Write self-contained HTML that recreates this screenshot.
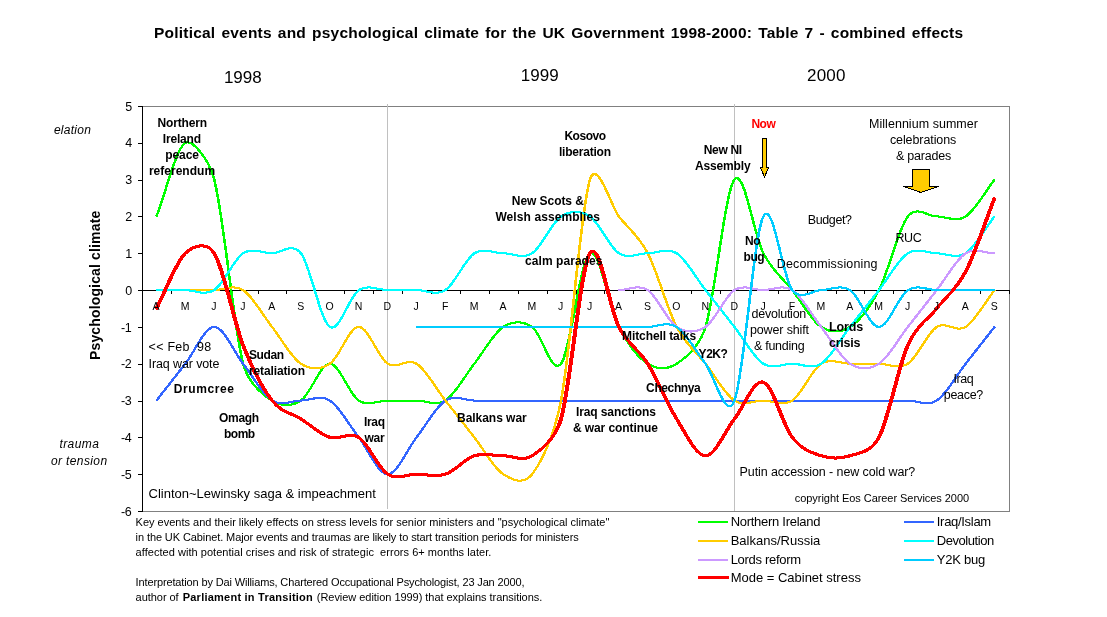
<!DOCTYPE html>
<html><head><meta charset="utf-8"><title>Political events and psychological climate</title>
<style>
html,body{margin:0;padding:0;background:#fff;}
body{width:1107px;height:617px;position:relative;overflow:hidden;font-family:"Liberation Sans",Arial,sans-serif;}
.t{position:absolute;white-space:pre;line-height:1;color:#000;}
</style></head><body>
<svg width="1107" height="617" viewBox="0 0 1107 617" style="position:absolute;left:0;top:0">
<g shape-rendering="crispEdges" fill="none">
<rect x="142.5" y="106.5" width="867" height="405" stroke="#808080" stroke-width="1"/>
<line x1="387.5" y1="104" x2="387.5" y2="509" stroke="#C0C0C0" stroke-width="1"/>
<line x1="734.5" y1="104" x2="734.5" y2="511" stroke="#C0C0C0" stroke-width="1"/>
<line x1="142.5" y1="106" x2="142.5" y2="512" stroke="#000" stroke-width="1"/>
<line x1="138" y1="511.5" x2="143" y2="511.5" stroke="#000" stroke-width="1"/>
<line x1="138" y1="474.5" x2="143" y2="474.5" stroke="#000" stroke-width="1"/>
<line x1="138" y1="437.5" x2="143" y2="437.5" stroke="#000" stroke-width="1"/>
<line x1="138" y1="401.5" x2="143" y2="401.5" stroke="#000" stroke-width="1"/>
<line x1="138" y1="364.5" x2="143" y2="364.5" stroke="#000" stroke-width="1"/>
<line x1="138" y1="327.5" x2="143" y2="327.5" stroke="#000" stroke-width="1"/>
<line x1="138" y1="290.5" x2="143" y2="290.5" stroke="#000" stroke-width="1"/>
<line x1="138" y1="253.5" x2="143" y2="253.5" stroke="#000" stroke-width="1"/>
<line x1="138" y1="216.5" x2="143" y2="216.5" stroke="#000" stroke-width="1"/>
<line x1="138" y1="180.5" x2="143" y2="180.5" stroke="#000" stroke-width="1"/>
<line x1="138" y1="143.5" x2="143" y2="143.5" stroke="#000" stroke-width="1"/>
<line x1="138" y1="106.5" x2="143" y2="106.5" stroke="#000" stroke-width="1"/>
<line x1="142" y1="290.5" x2="1010" y2="290.5" stroke="#000" stroke-width="1"/>
<line x1="142.5" y1="290.0" x2="142.5" y2="294.0" stroke="#000" stroke-width="1"/>
<line x1="171.5" y1="290.0" x2="171.5" y2="294.0" stroke="#000" stroke-width="1"/>
<line x1="200.5" y1="290.0" x2="200.5" y2="294.0" stroke="#000" stroke-width="1"/>
<line x1="229.5" y1="290.0" x2="229.5" y2="294.0" stroke="#000" stroke-width="1"/>
<line x1="258.5" y1="290.0" x2="258.5" y2="294.0" stroke="#000" stroke-width="1"/>
<line x1="286.5" y1="290.0" x2="286.5" y2="294.0" stroke="#000" stroke-width="1"/>
<line x1="315.5" y1="290.0" x2="315.5" y2="294.0" stroke="#000" stroke-width="1"/>
<line x1="344.5" y1="290.0" x2="344.5" y2="294.0" stroke="#000" stroke-width="1"/>
<line x1="373.5" y1="290.0" x2="373.5" y2="294.0" stroke="#000" stroke-width="1"/>
<line x1="402.5" y1="290.0" x2="402.5" y2="294.0" stroke="#000" stroke-width="1"/>
<line x1="431.5" y1="290.0" x2="431.5" y2="294.0" stroke="#000" stroke-width="1"/>
<line x1="460.5" y1="290.0" x2="460.5" y2="294.0" stroke="#000" stroke-width="1"/>
<line x1="489.5" y1="290.0" x2="489.5" y2="294.0" stroke="#000" stroke-width="1"/>
<line x1="518.5" y1="290.0" x2="518.5" y2="294.0" stroke="#000" stroke-width="1"/>
<line x1="547.5" y1="290.0" x2="547.5" y2="294.0" stroke="#000" stroke-width="1"/>
<line x1="576.5" y1="290.0" x2="576.5" y2="294.0" stroke="#000" stroke-width="1"/>
<line x1="604.5" y1="290.0" x2="604.5" y2="294.0" stroke="#000" stroke-width="1"/>
<line x1="633.5" y1="290.0" x2="633.5" y2="294.0" stroke="#000" stroke-width="1"/>
<line x1="662.5" y1="290.0" x2="662.5" y2="294.0" stroke="#000" stroke-width="1"/>
<line x1="691.5" y1="290.0" x2="691.5" y2="294.0" stroke="#000" stroke-width="1"/>
<line x1="720.5" y1="290.0" x2="720.5" y2="294.0" stroke="#000" stroke-width="1"/>
<line x1="749.5" y1="290.0" x2="749.5" y2="294.0" stroke="#000" stroke-width="1"/>
<line x1="778.5" y1="290.0" x2="778.5" y2="294.0" stroke="#000" stroke-width="1"/>
<line x1="807.5" y1="290.0" x2="807.5" y2="294.0" stroke="#000" stroke-width="1"/>
<line x1="836.5" y1="290.0" x2="836.5" y2="294.0" stroke="#000" stroke-width="1"/>
<line x1="864.5" y1="290.0" x2="864.5" y2="294.0" stroke="#000" stroke-width="1"/>
<line x1="893.5" y1="290.0" x2="893.5" y2="294.0" stroke="#000" stroke-width="1"/>
<line x1="922.5" y1="290.0" x2="922.5" y2="294.0" stroke="#000" stroke-width="1"/>
<line x1="951.5" y1="290.0" x2="951.5" y2="294.0" stroke="#000" stroke-width="1"/>
<line x1="980.5" y1="290.0" x2="980.5" y2="294.0" stroke="#000" stroke-width="1"/>
<line x1="1009.5" y1="290.0" x2="1009.5" y2="294.0" stroke="#000" stroke-width="1"/>
</g>
<g fill="none" stroke-linejoin="round" stroke-linecap="butt" shape-rendering="crispEdges">
<g stroke="#00FF00" stroke-width="1.0">
<path d="M156.45,216.45 C166.08,191.91 175.72,148.95 185.35,142.82 C191.27,139.04 208.33,157.00 214.25,179.64 C223.88,216.45 233.52,326.91 243.15,363.73 C249.07,386.37 266.13,396.77 272.05,400.55 C281.68,406.68 291.32,406.68 300.95,400.55 C310.58,394.41 320.22,363.73 329.85,363.73 C339.48,363.73 349.12,394.41 358.75,400.55 C368.38,406.68 378.02,400.55 387.65,400.55 C397.28,400.55 406.92,400.55 416.55,400.55 C426.18,400.55 435.82,406.68 445.45,400.55 C455.08,394.41 464.72,376.00 474.35,363.73 C483.98,351.45 493.62,333.05 503.25,326.91 C512.88,320.77 522.52,320.77 532.15,326.91 C541.78,333.05 551.42,376.00 561.05,363.73 C570.68,351.45 580.32,259.41 589.95,253.27 C599.58,247.14 609.22,308.50 618.85,326.91 C628.48,345.32 638.12,357.59 647.75,363.73 C657.38,369.86 667.02,369.86 676.65,363.73 C683.66,359.26 698.54,349.24 705.55,326.91 C715.18,296.23 724.82,191.91 734.45,179.64 C744.08,167.36 753.72,234.86 763.35,253.27 C772.98,271.68 782.62,277.82 792.25,290.09 C801.88,302.36 811.52,320.77 821.15,326.91 C830.78,333.05 840.42,333.05 850.05,326.91 C859.68,320.77 869.32,308.50 878.95,290.09 C888.58,271.68 898.22,228.73 907.85,216.45 C916.77,205.09 927.83,216.45 936.75,216.45 C946.38,216.45 956.02,222.59 965.65,216.45 C975.28,210.32 984.92,191.91 994.55,179.64" transform="translate(-0.5,-0.5)"/>
<path d="M156.45,216.45 C166.08,191.91 175.72,148.95 185.35,142.82 C191.27,139.04 208.33,157.00 214.25,179.64 C223.88,216.45 233.52,326.91 243.15,363.73 C249.07,386.37 266.13,396.77 272.05,400.55 C281.68,406.68 291.32,406.68 300.95,400.55 C310.58,394.41 320.22,363.73 329.85,363.73 C339.48,363.73 349.12,394.41 358.75,400.55 C368.38,406.68 378.02,400.55 387.65,400.55 C397.28,400.55 406.92,400.55 416.55,400.55 C426.18,400.55 435.82,406.68 445.45,400.55 C455.08,394.41 464.72,376.00 474.35,363.73 C483.98,351.45 493.62,333.05 503.25,326.91 C512.88,320.77 522.52,320.77 532.15,326.91 C541.78,333.05 551.42,376.00 561.05,363.73 C570.68,351.45 580.32,259.41 589.95,253.27 C599.58,247.14 609.22,308.50 618.85,326.91 C628.48,345.32 638.12,357.59 647.75,363.73 C657.38,369.86 667.02,369.86 676.65,363.73 C683.66,359.26 698.54,349.24 705.55,326.91 C715.18,296.23 724.82,191.91 734.45,179.64 C744.08,167.36 753.72,234.86 763.35,253.27 C772.98,271.68 782.62,277.82 792.25,290.09 C801.88,302.36 811.52,320.77 821.15,326.91 C830.78,333.05 840.42,333.05 850.05,326.91 C859.68,320.77 869.32,308.50 878.95,290.09 C888.58,271.68 898.22,228.73 907.85,216.45 C916.77,205.09 927.83,216.45 936.75,216.45 C946.38,216.45 956.02,222.59 965.65,216.45 C975.28,210.32 984.92,191.91 994.55,179.64" transform="translate(0.5,-0.5)"/>
<path d="M156.45,216.45 C166.08,191.91 175.72,148.95 185.35,142.82 C191.27,139.04 208.33,157.00 214.25,179.64 C223.88,216.45 233.52,326.91 243.15,363.73 C249.07,386.37 266.13,396.77 272.05,400.55 C281.68,406.68 291.32,406.68 300.95,400.55 C310.58,394.41 320.22,363.73 329.85,363.73 C339.48,363.73 349.12,394.41 358.75,400.55 C368.38,406.68 378.02,400.55 387.65,400.55 C397.28,400.55 406.92,400.55 416.55,400.55 C426.18,400.55 435.82,406.68 445.45,400.55 C455.08,394.41 464.72,376.00 474.35,363.73 C483.98,351.45 493.62,333.05 503.25,326.91 C512.88,320.77 522.52,320.77 532.15,326.91 C541.78,333.05 551.42,376.00 561.05,363.73 C570.68,351.45 580.32,259.41 589.95,253.27 C599.58,247.14 609.22,308.50 618.85,326.91 C628.48,345.32 638.12,357.59 647.75,363.73 C657.38,369.86 667.02,369.86 676.65,363.73 C683.66,359.26 698.54,349.24 705.55,326.91 C715.18,296.23 724.82,191.91 734.45,179.64 C744.08,167.36 753.72,234.86 763.35,253.27 C772.98,271.68 782.62,277.82 792.25,290.09 C801.88,302.36 811.52,320.77 821.15,326.91 C830.78,333.05 840.42,333.05 850.05,326.91 C859.68,320.77 869.32,308.50 878.95,290.09 C888.58,271.68 898.22,228.73 907.85,216.45 C916.77,205.09 927.83,216.45 936.75,216.45 C946.38,216.45 956.02,222.59 965.65,216.45 C975.28,210.32 984.92,191.91 994.55,179.64" transform="translate(-0.5,0.5)"/>
<path d="M156.45,216.45 C166.08,191.91 175.72,148.95 185.35,142.82 C191.27,139.04 208.33,157.00 214.25,179.64 C223.88,216.45 233.52,326.91 243.15,363.73 C249.07,386.37 266.13,396.77 272.05,400.55 C281.68,406.68 291.32,406.68 300.95,400.55 C310.58,394.41 320.22,363.73 329.85,363.73 C339.48,363.73 349.12,394.41 358.75,400.55 C368.38,406.68 378.02,400.55 387.65,400.55 C397.28,400.55 406.92,400.55 416.55,400.55 C426.18,400.55 435.82,406.68 445.45,400.55 C455.08,394.41 464.72,376.00 474.35,363.73 C483.98,351.45 493.62,333.05 503.25,326.91 C512.88,320.77 522.52,320.77 532.15,326.91 C541.78,333.05 551.42,376.00 561.05,363.73 C570.68,351.45 580.32,259.41 589.95,253.27 C599.58,247.14 609.22,308.50 618.85,326.91 C628.48,345.32 638.12,357.59 647.75,363.73 C657.38,369.86 667.02,369.86 676.65,363.73 C683.66,359.26 698.54,349.24 705.55,326.91 C715.18,296.23 724.82,191.91 734.45,179.64 C744.08,167.36 753.72,234.86 763.35,253.27 C772.98,271.68 782.62,277.82 792.25,290.09 C801.88,302.36 811.52,320.77 821.15,326.91 C830.78,333.05 840.42,333.05 850.05,326.91 C859.68,320.77 869.32,308.50 878.95,290.09 C888.58,271.68 898.22,228.73 907.85,216.45 C916.77,205.09 927.83,216.45 936.75,216.45 C946.38,216.45 956.02,222.59 965.65,216.45 C975.28,210.32 984.92,191.91 994.55,179.64" transform="translate(0.5,0.5)"/>
<path d="M156.45,216.45 C166.08,191.91 175.72,148.95 185.35,142.82 C191.27,139.04 208.33,157.00 214.25,179.64 C223.88,216.45 233.52,326.91 243.15,363.73 C249.07,386.37 266.13,396.77 272.05,400.55 C281.68,406.68 291.32,406.68 300.95,400.55 C310.58,394.41 320.22,363.73 329.85,363.73 C339.48,363.73 349.12,394.41 358.75,400.55 C368.38,406.68 378.02,400.55 387.65,400.55 C397.28,400.55 406.92,400.55 416.55,400.55 C426.18,400.55 435.82,406.68 445.45,400.55 C455.08,394.41 464.72,376.00 474.35,363.73 C483.98,351.45 493.62,333.05 503.25,326.91 C512.88,320.77 522.52,320.77 532.15,326.91 C541.78,333.05 551.42,376.00 561.05,363.73 C570.68,351.45 580.32,259.41 589.95,253.27 C599.58,247.14 609.22,308.50 618.85,326.91 C628.48,345.32 638.12,357.59 647.75,363.73 C657.38,369.86 667.02,369.86 676.65,363.73 C683.66,359.26 698.54,349.24 705.55,326.91 C715.18,296.23 724.82,191.91 734.45,179.64 C744.08,167.36 753.72,234.86 763.35,253.27 C772.98,271.68 782.62,277.82 792.25,290.09 C801.88,302.36 811.52,320.77 821.15,326.91 C830.78,333.05 840.42,333.05 850.05,326.91 C859.68,320.77 869.32,308.50 878.95,290.09 C888.58,271.68 898.22,228.73 907.85,216.45 C916.77,205.09 927.83,216.45 936.75,216.45 C946.38,216.45 956.02,222.59 965.65,216.45 C975.28,210.32 984.92,191.91 994.55,179.64" transform="translate(-0.8,0)"/>
<path d="M156.45,216.45 C166.08,191.91 175.72,148.95 185.35,142.82 C191.27,139.04 208.33,157.00 214.25,179.64 C223.88,216.45 233.52,326.91 243.15,363.73 C249.07,386.37 266.13,396.77 272.05,400.55 C281.68,406.68 291.32,406.68 300.95,400.55 C310.58,394.41 320.22,363.73 329.85,363.73 C339.48,363.73 349.12,394.41 358.75,400.55 C368.38,406.68 378.02,400.55 387.65,400.55 C397.28,400.55 406.92,400.55 416.55,400.55 C426.18,400.55 435.82,406.68 445.45,400.55 C455.08,394.41 464.72,376.00 474.35,363.73 C483.98,351.45 493.62,333.05 503.25,326.91 C512.88,320.77 522.52,320.77 532.15,326.91 C541.78,333.05 551.42,376.00 561.05,363.73 C570.68,351.45 580.32,259.41 589.95,253.27 C599.58,247.14 609.22,308.50 618.85,326.91 C628.48,345.32 638.12,357.59 647.75,363.73 C657.38,369.86 667.02,369.86 676.65,363.73 C683.66,359.26 698.54,349.24 705.55,326.91 C715.18,296.23 724.82,191.91 734.45,179.64 C744.08,167.36 753.72,234.86 763.35,253.27 C772.98,271.68 782.62,277.82 792.25,290.09 C801.88,302.36 811.52,320.77 821.15,326.91 C830.78,333.05 840.42,333.05 850.05,326.91 C859.68,320.77 869.32,308.50 878.95,290.09 C888.58,271.68 898.22,228.73 907.85,216.45 C916.77,205.09 927.83,216.45 936.75,216.45 C946.38,216.45 956.02,222.59 965.65,216.45 C975.28,210.32 984.92,191.91 994.55,179.64" transform="translate(0.8,0)"/>
</g>
<g stroke="#3366FF" stroke-width="1.0">
<path d="M156.45,400.55 C166.08,388.27 175.72,376.00 185.35,363.73 C194.98,351.45 204.62,326.91 214.25,326.91 C223.88,326.91 233.52,351.45 243.15,363.73 C252.78,376.00 262.42,394.41 272.05,400.55 C281.68,406.68 291.32,400.55 300.95,400.55 C310.58,400.55 320.22,394.41 329.85,400.55 C339.48,406.68 349.12,425.09 358.75,437.36 C368.38,449.64 378.02,474.18 387.65,474.18 C397.28,474.18 406.92,449.64 416.55,437.36 C426.18,425.09 435.82,406.68 445.45,400.55 C455.08,394.41 464.72,400.55 474.35,400.55 C483.98,400.55 493.62,400.55 503.25,400.55 C512.88,400.55 522.52,400.55 532.15,400.55 C541.78,400.55 551.42,400.55 561.05,400.55 C570.68,400.55 580.32,400.55 589.95,400.55 C599.58,400.55 609.22,400.55 618.85,400.55 C628.48,400.55 638.12,400.55 647.75,400.55 C657.38,400.55 667.02,400.55 676.65,400.55 C686.28,400.55 695.92,400.55 705.55,400.55 C715.18,400.55 724.82,400.55 734.45,400.55 C744.08,400.55 753.72,400.55 763.35,400.55 C772.98,400.55 782.62,400.55 792.25,400.55 C801.88,400.55 811.52,400.55 821.15,400.55 C830.78,400.55 840.42,400.55 850.05,400.55 C859.68,400.55 869.32,400.55 878.95,400.55 C888.58,400.55 898.22,400.55 907.85,400.55 C917.48,400.55 927.12,406.68 936.75,400.55 C946.38,394.41 956.02,376.00 965.65,363.73 C975.28,351.45 984.92,339.18 994.55,326.91" transform="translate(-0.5,-0.5)"/>
<path d="M156.45,400.55 C166.08,388.27 175.72,376.00 185.35,363.73 C194.98,351.45 204.62,326.91 214.25,326.91 C223.88,326.91 233.52,351.45 243.15,363.73 C252.78,376.00 262.42,394.41 272.05,400.55 C281.68,406.68 291.32,400.55 300.95,400.55 C310.58,400.55 320.22,394.41 329.85,400.55 C339.48,406.68 349.12,425.09 358.75,437.36 C368.38,449.64 378.02,474.18 387.65,474.18 C397.28,474.18 406.92,449.64 416.55,437.36 C426.18,425.09 435.82,406.68 445.45,400.55 C455.08,394.41 464.72,400.55 474.35,400.55 C483.98,400.55 493.62,400.55 503.25,400.55 C512.88,400.55 522.52,400.55 532.15,400.55 C541.78,400.55 551.42,400.55 561.05,400.55 C570.68,400.55 580.32,400.55 589.95,400.55 C599.58,400.55 609.22,400.55 618.85,400.55 C628.48,400.55 638.12,400.55 647.75,400.55 C657.38,400.55 667.02,400.55 676.65,400.55 C686.28,400.55 695.92,400.55 705.55,400.55 C715.18,400.55 724.82,400.55 734.45,400.55 C744.08,400.55 753.72,400.55 763.35,400.55 C772.98,400.55 782.62,400.55 792.25,400.55 C801.88,400.55 811.52,400.55 821.15,400.55 C830.78,400.55 840.42,400.55 850.05,400.55 C859.68,400.55 869.32,400.55 878.95,400.55 C888.58,400.55 898.22,400.55 907.85,400.55 C917.48,400.55 927.12,406.68 936.75,400.55 C946.38,394.41 956.02,376.00 965.65,363.73 C975.28,351.45 984.92,339.18 994.55,326.91" transform="translate(0.5,-0.5)"/>
<path d="M156.45,400.55 C166.08,388.27 175.72,376.00 185.35,363.73 C194.98,351.45 204.62,326.91 214.25,326.91 C223.88,326.91 233.52,351.45 243.15,363.73 C252.78,376.00 262.42,394.41 272.05,400.55 C281.68,406.68 291.32,400.55 300.95,400.55 C310.58,400.55 320.22,394.41 329.85,400.55 C339.48,406.68 349.12,425.09 358.75,437.36 C368.38,449.64 378.02,474.18 387.65,474.18 C397.28,474.18 406.92,449.64 416.55,437.36 C426.18,425.09 435.82,406.68 445.45,400.55 C455.08,394.41 464.72,400.55 474.35,400.55 C483.98,400.55 493.62,400.55 503.25,400.55 C512.88,400.55 522.52,400.55 532.15,400.55 C541.78,400.55 551.42,400.55 561.05,400.55 C570.68,400.55 580.32,400.55 589.95,400.55 C599.58,400.55 609.22,400.55 618.85,400.55 C628.48,400.55 638.12,400.55 647.75,400.55 C657.38,400.55 667.02,400.55 676.65,400.55 C686.28,400.55 695.92,400.55 705.55,400.55 C715.18,400.55 724.82,400.55 734.45,400.55 C744.08,400.55 753.72,400.55 763.35,400.55 C772.98,400.55 782.62,400.55 792.25,400.55 C801.88,400.55 811.52,400.55 821.15,400.55 C830.78,400.55 840.42,400.55 850.05,400.55 C859.68,400.55 869.32,400.55 878.95,400.55 C888.58,400.55 898.22,400.55 907.85,400.55 C917.48,400.55 927.12,406.68 936.75,400.55 C946.38,394.41 956.02,376.00 965.65,363.73 C975.28,351.45 984.92,339.18 994.55,326.91" transform="translate(-0.5,0.5)"/>
<path d="M156.45,400.55 C166.08,388.27 175.72,376.00 185.35,363.73 C194.98,351.45 204.62,326.91 214.25,326.91 C223.88,326.91 233.52,351.45 243.15,363.73 C252.78,376.00 262.42,394.41 272.05,400.55 C281.68,406.68 291.32,400.55 300.95,400.55 C310.58,400.55 320.22,394.41 329.85,400.55 C339.48,406.68 349.12,425.09 358.75,437.36 C368.38,449.64 378.02,474.18 387.65,474.18 C397.28,474.18 406.92,449.64 416.55,437.36 C426.18,425.09 435.82,406.68 445.45,400.55 C455.08,394.41 464.72,400.55 474.35,400.55 C483.98,400.55 493.62,400.55 503.25,400.55 C512.88,400.55 522.52,400.55 532.15,400.55 C541.78,400.55 551.42,400.55 561.05,400.55 C570.68,400.55 580.32,400.55 589.95,400.55 C599.58,400.55 609.22,400.55 618.85,400.55 C628.48,400.55 638.12,400.55 647.75,400.55 C657.38,400.55 667.02,400.55 676.65,400.55 C686.28,400.55 695.92,400.55 705.55,400.55 C715.18,400.55 724.82,400.55 734.45,400.55 C744.08,400.55 753.72,400.55 763.35,400.55 C772.98,400.55 782.62,400.55 792.25,400.55 C801.88,400.55 811.52,400.55 821.15,400.55 C830.78,400.55 840.42,400.55 850.05,400.55 C859.68,400.55 869.32,400.55 878.95,400.55 C888.58,400.55 898.22,400.55 907.85,400.55 C917.48,400.55 927.12,406.68 936.75,400.55 C946.38,394.41 956.02,376.00 965.65,363.73 C975.28,351.45 984.92,339.18 994.55,326.91" transform="translate(0.5,0.5)"/>
<path d="M156.45,400.55 C166.08,388.27 175.72,376.00 185.35,363.73 C194.98,351.45 204.62,326.91 214.25,326.91 C223.88,326.91 233.52,351.45 243.15,363.73 C252.78,376.00 262.42,394.41 272.05,400.55 C281.68,406.68 291.32,400.55 300.95,400.55 C310.58,400.55 320.22,394.41 329.85,400.55 C339.48,406.68 349.12,425.09 358.75,437.36 C368.38,449.64 378.02,474.18 387.65,474.18 C397.28,474.18 406.92,449.64 416.55,437.36 C426.18,425.09 435.82,406.68 445.45,400.55 C455.08,394.41 464.72,400.55 474.35,400.55 C483.98,400.55 493.62,400.55 503.25,400.55 C512.88,400.55 522.52,400.55 532.15,400.55 C541.78,400.55 551.42,400.55 561.05,400.55 C570.68,400.55 580.32,400.55 589.95,400.55 C599.58,400.55 609.22,400.55 618.85,400.55 C628.48,400.55 638.12,400.55 647.75,400.55 C657.38,400.55 667.02,400.55 676.65,400.55 C686.28,400.55 695.92,400.55 705.55,400.55 C715.18,400.55 724.82,400.55 734.45,400.55 C744.08,400.55 753.72,400.55 763.35,400.55 C772.98,400.55 782.62,400.55 792.25,400.55 C801.88,400.55 811.52,400.55 821.15,400.55 C830.78,400.55 840.42,400.55 850.05,400.55 C859.68,400.55 869.32,400.55 878.95,400.55 C888.58,400.55 898.22,400.55 907.85,400.55 C917.48,400.55 927.12,406.68 936.75,400.55 C946.38,394.41 956.02,376.00 965.65,363.73 C975.28,351.45 984.92,339.18 994.55,326.91" transform="translate(-0.8,0)"/>
<path d="M156.45,400.55 C166.08,388.27 175.72,376.00 185.35,363.73 C194.98,351.45 204.62,326.91 214.25,326.91 C223.88,326.91 233.52,351.45 243.15,363.73 C252.78,376.00 262.42,394.41 272.05,400.55 C281.68,406.68 291.32,400.55 300.95,400.55 C310.58,400.55 320.22,394.41 329.85,400.55 C339.48,406.68 349.12,425.09 358.75,437.36 C368.38,449.64 378.02,474.18 387.65,474.18 C397.28,474.18 406.92,449.64 416.55,437.36 C426.18,425.09 435.82,406.68 445.45,400.55 C455.08,394.41 464.72,400.55 474.35,400.55 C483.98,400.55 493.62,400.55 503.25,400.55 C512.88,400.55 522.52,400.55 532.15,400.55 C541.78,400.55 551.42,400.55 561.05,400.55 C570.68,400.55 580.32,400.55 589.95,400.55 C599.58,400.55 609.22,400.55 618.85,400.55 C628.48,400.55 638.12,400.55 647.75,400.55 C657.38,400.55 667.02,400.55 676.65,400.55 C686.28,400.55 695.92,400.55 705.55,400.55 C715.18,400.55 724.82,400.55 734.45,400.55 C744.08,400.55 753.72,400.55 763.35,400.55 C772.98,400.55 782.62,400.55 792.25,400.55 C801.88,400.55 811.52,400.55 821.15,400.55 C830.78,400.55 840.42,400.55 850.05,400.55 C859.68,400.55 869.32,400.55 878.95,400.55 C888.58,400.55 898.22,400.55 907.85,400.55 C917.48,400.55 927.12,406.68 936.75,400.55 C946.38,394.41 956.02,376.00 965.65,363.73 C975.28,351.45 984.92,339.18 994.55,326.91" transform="translate(0.8,0)"/>
</g>
<g stroke="#FFCC00" stroke-width="1.0">
<path d="M156.45,290.09 C166.08,290.09 175.72,290.09 185.35,290.09 C194.98,290.09 204.62,290.09 214.25,290.09 C223.88,290.09 233.52,283.95 243.15,290.09 C252.78,296.23 262.42,314.64 272.05,326.91 C281.68,339.18 291.32,357.59 300.95,363.73 C310.58,369.86 320.22,369.86 329.85,363.73 C339.48,357.59 349.12,326.91 358.75,326.91 C368.38,326.91 378.02,357.59 387.65,363.73 C397.28,369.86 406.92,357.59 416.55,363.73 C426.18,369.86 435.82,388.27 445.45,400.55 C455.08,412.82 464.72,425.09 474.35,437.36 C483.98,449.64 493.62,468.05 503.25,474.18 C512.17,479.87 523.23,485.55 532.15,474.18 C539.77,464.48 553.43,439.36 561.05,400.55 C570.68,351.45 580.32,210.32 589.95,179.64 C596.96,157.31 611.84,207.52 618.85,216.45 C628.48,228.73 638.12,234.86 647.75,253.27 C657.38,271.68 667.02,308.50 676.65,326.91 C686.28,345.32 695.92,351.45 705.55,363.73 C715.18,376.00 724.82,394.41 734.45,400.55 C744.08,406.68 753.72,400.55 763.35,400.55 C772.98,400.55 782.62,406.68 792.25,400.55 C801.88,394.41 811.52,369.86 821.15,363.73 C830.78,357.59 840.42,363.73 850.05,363.73 C859.68,363.73 869.32,363.73 878.95,363.73 C888.58,363.73 898.22,369.86 907.85,363.73 C917.48,357.59 927.12,333.05 936.75,326.91 C946.38,320.77 956.02,333.05 965.65,326.91 C975.28,320.77 984.92,302.36 994.55,290.09" transform="translate(-0.5,-0.5)"/>
<path d="M156.45,290.09 C166.08,290.09 175.72,290.09 185.35,290.09 C194.98,290.09 204.62,290.09 214.25,290.09 C223.88,290.09 233.52,283.95 243.15,290.09 C252.78,296.23 262.42,314.64 272.05,326.91 C281.68,339.18 291.32,357.59 300.95,363.73 C310.58,369.86 320.22,369.86 329.85,363.73 C339.48,357.59 349.12,326.91 358.75,326.91 C368.38,326.91 378.02,357.59 387.65,363.73 C397.28,369.86 406.92,357.59 416.55,363.73 C426.18,369.86 435.82,388.27 445.45,400.55 C455.08,412.82 464.72,425.09 474.35,437.36 C483.98,449.64 493.62,468.05 503.25,474.18 C512.17,479.87 523.23,485.55 532.15,474.18 C539.77,464.48 553.43,439.36 561.05,400.55 C570.68,351.45 580.32,210.32 589.95,179.64 C596.96,157.31 611.84,207.52 618.85,216.45 C628.48,228.73 638.12,234.86 647.75,253.27 C657.38,271.68 667.02,308.50 676.65,326.91 C686.28,345.32 695.92,351.45 705.55,363.73 C715.18,376.00 724.82,394.41 734.45,400.55 C744.08,406.68 753.72,400.55 763.35,400.55 C772.98,400.55 782.62,406.68 792.25,400.55 C801.88,394.41 811.52,369.86 821.15,363.73 C830.78,357.59 840.42,363.73 850.05,363.73 C859.68,363.73 869.32,363.73 878.95,363.73 C888.58,363.73 898.22,369.86 907.85,363.73 C917.48,357.59 927.12,333.05 936.75,326.91 C946.38,320.77 956.02,333.05 965.65,326.91 C975.28,320.77 984.92,302.36 994.55,290.09" transform="translate(0.5,-0.5)"/>
<path d="M156.45,290.09 C166.08,290.09 175.72,290.09 185.35,290.09 C194.98,290.09 204.62,290.09 214.25,290.09 C223.88,290.09 233.52,283.95 243.15,290.09 C252.78,296.23 262.42,314.64 272.05,326.91 C281.68,339.18 291.32,357.59 300.95,363.73 C310.58,369.86 320.22,369.86 329.85,363.73 C339.48,357.59 349.12,326.91 358.75,326.91 C368.38,326.91 378.02,357.59 387.65,363.73 C397.28,369.86 406.92,357.59 416.55,363.73 C426.18,369.86 435.82,388.27 445.45,400.55 C455.08,412.82 464.72,425.09 474.35,437.36 C483.98,449.64 493.62,468.05 503.25,474.18 C512.17,479.87 523.23,485.55 532.15,474.18 C539.77,464.48 553.43,439.36 561.05,400.55 C570.68,351.45 580.32,210.32 589.95,179.64 C596.96,157.31 611.84,207.52 618.85,216.45 C628.48,228.73 638.12,234.86 647.75,253.27 C657.38,271.68 667.02,308.50 676.65,326.91 C686.28,345.32 695.92,351.45 705.55,363.73 C715.18,376.00 724.82,394.41 734.45,400.55 C744.08,406.68 753.72,400.55 763.35,400.55 C772.98,400.55 782.62,406.68 792.25,400.55 C801.88,394.41 811.52,369.86 821.15,363.73 C830.78,357.59 840.42,363.73 850.05,363.73 C859.68,363.73 869.32,363.73 878.95,363.73 C888.58,363.73 898.22,369.86 907.85,363.73 C917.48,357.59 927.12,333.05 936.75,326.91 C946.38,320.77 956.02,333.05 965.65,326.91 C975.28,320.77 984.92,302.36 994.55,290.09" transform="translate(-0.5,0.5)"/>
<path d="M156.45,290.09 C166.08,290.09 175.72,290.09 185.35,290.09 C194.98,290.09 204.62,290.09 214.25,290.09 C223.88,290.09 233.52,283.95 243.15,290.09 C252.78,296.23 262.42,314.64 272.05,326.91 C281.68,339.18 291.32,357.59 300.95,363.73 C310.58,369.86 320.22,369.86 329.85,363.73 C339.48,357.59 349.12,326.91 358.75,326.91 C368.38,326.91 378.02,357.59 387.65,363.73 C397.28,369.86 406.92,357.59 416.55,363.73 C426.18,369.86 435.82,388.27 445.45,400.55 C455.08,412.82 464.72,425.09 474.35,437.36 C483.98,449.64 493.62,468.05 503.25,474.18 C512.17,479.87 523.23,485.55 532.15,474.18 C539.77,464.48 553.43,439.36 561.05,400.55 C570.68,351.45 580.32,210.32 589.95,179.64 C596.96,157.31 611.84,207.52 618.85,216.45 C628.48,228.73 638.12,234.86 647.75,253.27 C657.38,271.68 667.02,308.50 676.65,326.91 C686.28,345.32 695.92,351.45 705.55,363.73 C715.18,376.00 724.82,394.41 734.45,400.55 C744.08,406.68 753.72,400.55 763.35,400.55 C772.98,400.55 782.62,406.68 792.25,400.55 C801.88,394.41 811.52,369.86 821.15,363.73 C830.78,357.59 840.42,363.73 850.05,363.73 C859.68,363.73 869.32,363.73 878.95,363.73 C888.58,363.73 898.22,369.86 907.85,363.73 C917.48,357.59 927.12,333.05 936.75,326.91 C946.38,320.77 956.02,333.05 965.65,326.91 C975.28,320.77 984.92,302.36 994.55,290.09" transform="translate(0.5,0.5)"/>
<path d="M156.45,290.09 C166.08,290.09 175.72,290.09 185.35,290.09 C194.98,290.09 204.62,290.09 214.25,290.09 C223.88,290.09 233.52,283.95 243.15,290.09 C252.78,296.23 262.42,314.64 272.05,326.91 C281.68,339.18 291.32,357.59 300.95,363.73 C310.58,369.86 320.22,369.86 329.85,363.73 C339.48,357.59 349.12,326.91 358.75,326.91 C368.38,326.91 378.02,357.59 387.65,363.73 C397.28,369.86 406.92,357.59 416.55,363.73 C426.18,369.86 435.82,388.27 445.45,400.55 C455.08,412.82 464.72,425.09 474.35,437.36 C483.98,449.64 493.62,468.05 503.25,474.18 C512.17,479.87 523.23,485.55 532.15,474.18 C539.77,464.48 553.43,439.36 561.05,400.55 C570.68,351.45 580.32,210.32 589.95,179.64 C596.96,157.31 611.84,207.52 618.85,216.45 C628.48,228.73 638.12,234.86 647.75,253.27 C657.38,271.68 667.02,308.50 676.65,326.91 C686.28,345.32 695.92,351.45 705.55,363.73 C715.18,376.00 724.82,394.41 734.45,400.55 C744.08,406.68 753.72,400.55 763.35,400.55 C772.98,400.55 782.62,406.68 792.25,400.55 C801.88,394.41 811.52,369.86 821.15,363.73 C830.78,357.59 840.42,363.73 850.05,363.73 C859.68,363.73 869.32,363.73 878.95,363.73 C888.58,363.73 898.22,369.86 907.85,363.73 C917.48,357.59 927.12,333.05 936.75,326.91 C946.38,320.77 956.02,333.05 965.65,326.91 C975.28,320.77 984.92,302.36 994.55,290.09" transform="translate(-0.8,0)"/>
<path d="M156.45,290.09 C166.08,290.09 175.72,290.09 185.35,290.09 C194.98,290.09 204.62,290.09 214.25,290.09 C223.88,290.09 233.52,283.95 243.15,290.09 C252.78,296.23 262.42,314.64 272.05,326.91 C281.68,339.18 291.32,357.59 300.95,363.73 C310.58,369.86 320.22,369.86 329.85,363.73 C339.48,357.59 349.12,326.91 358.75,326.91 C368.38,326.91 378.02,357.59 387.65,363.73 C397.28,369.86 406.92,357.59 416.55,363.73 C426.18,369.86 435.82,388.27 445.45,400.55 C455.08,412.82 464.72,425.09 474.35,437.36 C483.98,449.64 493.62,468.05 503.25,474.18 C512.17,479.87 523.23,485.55 532.15,474.18 C539.77,464.48 553.43,439.36 561.05,400.55 C570.68,351.45 580.32,210.32 589.95,179.64 C596.96,157.31 611.84,207.52 618.85,216.45 C628.48,228.73 638.12,234.86 647.75,253.27 C657.38,271.68 667.02,308.50 676.65,326.91 C686.28,345.32 695.92,351.45 705.55,363.73 C715.18,376.00 724.82,394.41 734.45,400.55 C744.08,406.68 753.72,400.55 763.35,400.55 C772.98,400.55 782.62,406.68 792.25,400.55 C801.88,394.41 811.52,369.86 821.15,363.73 C830.78,357.59 840.42,363.73 850.05,363.73 C859.68,363.73 869.32,363.73 878.95,363.73 C888.58,363.73 898.22,369.86 907.85,363.73 C917.48,357.59 927.12,333.05 936.75,326.91 C946.38,320.77 956.02,333.05 965.65,326.91 C975.28,320.77 984.92,302.36 994.55,290.09" transform="translate(0.8,0)"/>
</g>
<g stroke="#00FFFF" stroke-width="1.0">
<path d="M156.45,290.09 C166.08,290.09 175.72,290.09 185.35,290.09 C194.98,290.09 204.62,296.23 214.25,290.09 C223.88,283.95 233.52,259.41 243.15,253.27 C252.78,247.14 262.42,253.27 272.05,253.27 C280.97,253.27 292.03,241.91 300.95,253.27 C310.58,265.55 320.22,320.77 329.85,326.91 C339.48,333.05 349.12,296.23 358.75,290.09 C368.38,283.95 378.02,290.09 387.65,290.09 C397.28,290.09 406.92,290.09 416.55,290.09 C426.18,290.09 435.82,296.23 445.45,290.09 C455.08,283.95 464.72,259.41 474.35,253.27 C483.98,247.14 493.62,253.27 503.25,253.27 C512.88,253.27 522.52,259.41 532.15,253.27 C541.78,247.14 551.42,222.59 561.05,216.45 C570.68,210.32 580.32,210.32 589.95,216.45 C599.58,222.59 609.22,247.14 618.85,253.27 C628.48,259.41 638.12,253.27 647.75,253.27 C657.38,253.27 667.02,247.14 676.65,253.27 C686.28,259.41 695.92,277.82 705.55,290.09 C715.18,302.36 724.82,314.64 734.45,326.91 C744.08,339.18 753.72,357.59 763.35,363.73 C772.98,369.86 782.62,363.73 792.25,363.73 C801.88,363.73 811.52,369.86 821.15,363.73 C830.78,357.59 840.42,339.18 850.05,326.91 C859.68,314.64 869.32,302.36 878.95,290.09 C888.58,277.82 898.22,259.41 907.85,253.27 C917.48,247.14 927.12,253.27 936.75,253.27 C946.38,253.27 956.02,259.41 965.65,253.27 C975.28,247.14 984.92,228.73 994.55,216.45" transform="translate(-0.5,-0.5)"/>
<path d="M156.45,290.09 C166.08,290.09 175.72,290.09 185.35,290.09 C194.98,290.09 204.62,296.23 214.25,290.09 C223.88,283.95 233.52,259.41 243.15,253.27 C252.78,247.14 262.42,253.27 272.05,253.27 C280.97,253.27 292.03,241.91 300.95,253.27 C310.58,265.55 320.22,320.77 329.85,326.91 C339.48,333.05 349.12,296.23 358.75,290.09 C368.38,283.95 378.02,290.09 387.65,290.09 C397.28,290.09 406.92,290.09 416.55,290.09 C426.18,290.09 435.82,296.23 445.45,290.09 C455.08,283.95 464.72,259.41 474.35,253.27 C483.98,247.14 493.62,253.27 503.25,253.27 C512.88,253.27 522.52,259.41 532.15,253.27 C541.78,247.14 551.42,222.59 561.05,216.45 C570.68,210.32 580.32,210.32 589.95,216.45 C599.58,222.59 609.22,247.14 618.85,253.27 C628.48,259.41 638.12,253.27 647.75,253.27 C657.38,253.27 667.02,247.14 676.65,253.27 C686.28,259.41 695.92,277.82 705.55,290.09 C715.18,302.36 724.82,314.64 734.45,326.91 C744.08,339.18 753.72,357.59 763.35,363.73 C772.98,369.86 782.62,363.73 792.25,363.73 C801.88,363.73 811.52,369.86 821.15,363.73 C830.78,357.59 840.42,339.18 850.05,326.91 C859.68,314.64 869.32,302.36 878.95,290.09 C888.58,277.82 898.22,259.41 907.85,253.27 C917.48,247.14 927.12,253.27 936.75,253.27 C946.38,253.27 956.02,259.41 965.65,253.27 C975.28,247.14 984.92,228.73 994.55,216.45" transform="translate(0.5,-0.5)"/>
<path d="M156.45,290.09 C166.08,290.09 175.72,290.09 185.35,290.09 C194.98,290.09 204.62,296.23 214.25,290.09 C223.88,283.95 233.52,259.41 243.15,253.27 C252.78,247.14 262.42,253.27 272.05,253.27 C280.97,253.27 292.03,241.91 300.95,253.27 C310.58,265.55 320.22,320.77 329.85,326.91 C339.48,333.05 349.12,296.23 358.75,290.09 C368.38,283.95 378.02,290.09 387.65,290.09 C397.28,290.09 406.92,290.09 416.55,290.09 C426.18,290.09 435.82,296.23 445.45,290.09 C455.08,283.95 464.72,259.41 474.35,253.27 C483.98,247.14 493.62,253.27 503.25,253.27 C512.88,253.27 522.52,259.41 532.15,253.27 C541.78,247.14 551.42,222.59 561.05,216.45 C570.68,210.32 580.32,210.32 589.95,216.45 C599.58,222.59 609.22,247.14 618.85,253.27 C628.48,259.41 638.12,253.27 647.75,253.27 C657.38,253.27 667.02,247.14 676.65,253.27 C686.28,259.41 695.92,277.82 705.55,290.09 C715.18,302.36 724.82,314.64 734.45,326.91 C744.08,339.18 753.72,357.59 763.35,363.73 C772.98,369.86 782.62,363.73 792.25,363.73 C801.88,363.73 811.52,369.86 821.15,363.73 C830.78,357.59 840.42,339.18 850.05,326.91 C859.68,314.64 869.32,302.36 878.95,290.09 C888.58,277.82 898.22,259.41 907.85,253.27 C917.48,247.14 927.12,253.27 936.75,253.27 C946.38,253.27 956.02,259.41 965.65,253.27 C975.28,247.14 984.92,228.73 994.55,216.45" transform="translate(-0.5,0.5)"/>
<path d="M156.45,290.09 C166.08,290.09 175.72,290.09 185.35,290.09 C194.98,290.09 204.62,296.23 214.25,290.09 C223.88,283.95 233.52,259.41 243.15,253.27 C252.78,247.14 262.42,253.27 272.05,253.27 C280.97,253.27 292.03,241.91 300.95,253.27 C310.58,265.55 320.22,320.77 329.85,326.91 C339.48,333.05 349.12,296.23 358.75,290.09 C368.38,283.95 378.02,290.09 387.65,290.09 C397.28,290.09 406.92,290.09 416.55,290.09 C426.18,290.09 435.82,296.23 445.45,290.09 C455.08,283.95 464.72,259.41 474.35,253.27 C483.98,247.14 493.62,253.27 503.25,253.27 C512.88,253.27 522.52,259.41 532.15,253.27 C541.78,247.14 551.42,222.59 561.05,216.45 C570.68,210.32 580.32,210.32 589.95,216.45 C599.58,222.59 609.22,247.14 618.85,253.27 C628.48,259.41 638.12,253.27 647.75,253.27 C657.38,253.27 667.02,247.14 676.65,253.27 C686.28,259.41 695.92,277.82 705.55,290.09 C715.18,302.36 724.82,314.64 734.45,326.91 C744.08,339.18 753.72,357.59 763.35,363.73 C772.98,369.86 782.62,363.73 792.25,363.73 C801.88,363.73 811.52,369.86 821.15,363.73 C830.78,357.59 840.42,339.18 850.05,326.91 C859.68,314.64 869.32,302.36 878.95,290.09 C888.58,277.82 898.22,259.41 907.85,253.27 C917.48,247.14 927.12,253.27 936.75,253.27 C946.38,253.27 956.02,259.41 965.65,253.27 C975.28,247.14 984.92,228.73 994.55,216.45" transform="translate(0.5,0.5)"/>
<path d="M156.45,290.09 C166.08,290.09 175.72,290.09 185.35,290.09 C194.98,290.09 204.62,296.23 214.25,290.09 C223.88,283.95 233.52,259.41 243.15,253.27 C252.78,247.14 262.42,253.27 272.05,253.27 C280.97,253.27 292.03,241.91 300.95,253.27 C310.58,265.55 320.22,320.77 329.85,326.91 C339.48,333.05 349.12,296.23 358.75,290.09 C368.38,283.95 378.02,290.09 387.65,290.09 C397.28,290.09 406.92,290.09 416.55,290.09 C426.18,290.09 435.82,296.23 445.45,290.09 C455.08,283.95 464.72,259.41 474.35,253.27 C483.98,247.14 493.62,253.27 503.25,253.27 C512.88,253.27 522.52,259.41 532.15,253.27 C541.78,247.14 551.42,222.59 561.05,216.45 C570.68,210.32 580.32,210.32 589.95,216.45 C599.58,222.59 609.22,247.14 618.85,253.27 C628.48,259.41 638.12,253.27 647.75,253.27 C657.38,253.27 667.02,247.14 676.65,253.27 C686.28,259.41 695.92,277.82 705.55,290.09 C715.18,302.36 724.82,314.64 734.45,326.91 C744.08,339.18 753.72,357.59 763.35,363.73 C772.98,369.86 782.62,363.73 792.25,363.73 C801.88,363.73 811.52,369.86 821.15,363.73 C830.78,357.59 840.42,339.18 850.05,326.91 C859.68,314.64 869.32,302.36 878.95,290.09 C888.58,277.82 898.22,259.41 907.85,253.27 C917.48,247.14 927.12,253.27 936.75,253.27 C946.38,253.27 956.02,259.41 965.65,253.27 C975.28,247.14 984.92,228.73 994.55,216.45" transform="translate(-0.8,0)"/>
<path d="M156.45,290.09 C166.08,290.09 175.72,290.09 185.35,290.09 C194.98,290.09 204.62,296.23 214.25,290.09 C223.88,283.95 233.52,259.41 243.15,253.27 C252.78,247.14 262.42,253.27 272.05,253.27 C280.97,253.27 292.03,241.91 300.95,253.27 C310.58,265.55 320.22,320.77 329.85,326.91 C339.48,333.05 349.12,296.23 358.75,290.09 C368.38,283.95 378.02,290.09 387.65,290.09 C397.28,290.09 406.92,290.09 416.55,290.09 C426.18,290.09 435.82,296.23 445.45,290.09 C455.08,283.95 464.72,259.41 474.35,253.27 C483.98,247.14 493.62,253.27 503.25,253.27 C512.88,253.27 522.52,259.41 532.15,253.27 C541.78,247.14 551.42,222.59 561.05,216.45 C570.68,210.32 580.32,210.32 589.95,216.45 C599.58,222.59 609.22,247.14 618.85,253.27 C628.48,259.41 638.12,253.27 647.75,253.27 C657.38,253.27 667.02,247.14 676.65,253.27 C686.28,259.41 695.92,277.82 705.55,290.09 C715.18,302.36 724.82,314.64 734.45,326.91 C744.08,339.18 753.72,357.59 763.35,363.73 C772.98,369.86 782.62,363.73 792.25,363.73 C801.88,363.73 811.52,369.86 821.15,363.73 C830.78,357.59 840.42,339.18 850.05,326.91 C859.68,314.64 869.32,302.36 878.95,290.09 C888.58,277.82 898.22,259.41 907.85,253.27 C917.48,247.14 927.12,253.27 936.75,253.27 C946.38,253.27 956.02,259.41 965.65,253.27 C975.28,247.14 984.92,228.73 994.55,216.45" transform="translate(0.8,0)"/>
</g>
<g stroke="#CC99FF" stroke-width="1.0">
<path d="M618.85,290.09 C628.48,290.09 638.12,283.95 647.75,290.09 C657.38,296.23 667.02,320.77 676.65,326.91 C686.28,333.05 695.92,333.05 705.55,326.91 C715.18,320.77 724.82,296.23 734.45,290.09 C744.08,283.95 753.72,290.09 763.35,290.09 C772.98,290.09 782.62,283.95 792.25,290.09 C801.88,296.23 811.52,314.64 821.15,326.91 C830.78,339.18 840.42,357.59 850.05,363.73 C859.68,369.86 869.32,369.86 878.95,363.73 C888.58,357.59 898.22,339.18 907.85,326.91 C917.48,314.64 927.12,302.36 936.75,290.09 C946.38,277.82 956.02,259.41 965.65,253.27 C975.28,247.14 984.92,253.27 994.55,253.27" transform="translate(-0.5,-0.5)"/>
<path d="M618.85,290.09 C628.48,290.09 638.12,283.95 647.75,290.09 C657.38,296.23 667.02,320.77 676.65,326.91 C686.28,333.05 695.92,333.05 705.55,326.91 C715.18,320.77 724.82,296.23 734.45,290.09 C744.08,283.95 753.72,290.09 763.35,290.09 C772.98,290.09 782.62,283.95 792.25,290.09 C801.88,296.23 811.52,314.64 821.15,326.91 C830.78,339.18 840.42,357.59 850.05,363.73 C859.68,369.86 869.32,369.86 878.95,363.73 C888.58,357.59 898.22,339.18 907.85,326.91 C917.48,314.64 927.12,302.36 936.75,290.09 C946.38,277.82 956.02,259.41 965.65,253.27 C975.28,247.14 984.92,253.27 994.55,253.27" transform="translate(0.5,-0.5)"/>
<path d="M618.85,290.09 C628.48,290.09 638.12,283.95 647.75,290.09 C657.38,296.23 667.02,320.77 676.65,326.91 C686.28,333.05 695.92,333.05 705.55,326.91 C715.18,320.77 724.82,296.23 734.45,290.09 C744.08,283.95 753.72,290.09 763.35,290.09 C772.98,290.09 782.62,283.95 792.25,290.09 C801.88,296.23 811.52,314.64 821.15,326.91 C830.78,339.18 840.42,357.59 850.05,363.73 C859.68,369.86 869.32,369.86 878.95,363.73 C888.58,357.59 898.22,339.18 907.85,326.91 C917.48,314.64 927.12,302.36 936.75,290.09 C946.38,277.82 956.02,259.41 965.65,253.27 C975.28,247.14 984.92,253.27 994.55,253.27" transform="translate(-0.5,0.5)"/>
<path d="M618.85,290.09 C628.48,290.09 638.12,283.95 647.75,290.09 C657.38,296.23 667.02,320.77 676.65,326.91 C686.28,333.05 695.92,333.05 705.55,326.91 C715.18,320.77 724.82,296.23 734.45,290.09 C744.08,283.95 753.72,290.09 763.35,290.09 C772.98,290.09 782.62,283.95 792.25,290.09 C801.88,296.23 811.52,314.64 821.15,326.91 C830.78,339.18 840.42,357.59 850.05,363.73 C859.68,369.86 869.32,369.86 878.95,363.73 C888.58,357.59 898.22,339.18 907.85,326.91 C917.48,314.64 927.12,302.36 936.75,290.09 C946.38,277.82 956.02,259.41 965.65,253.27 C975.28,247.14 984.92,253.27 994.55,253.27" transform="translate(0.5,0.5)"/>
<path d="M618.85,290.09 C628.48,290.09 638.12,283.95 647.75,290.09 C657.38,296.23 667.02,320.77 676.65,326.91 C686.28,333.05 695.92,333.05 705.55,326.91 C715.18,320.77 724.82,296.23 734.45,290.09 C744.08,283.95 753.72,290.09 763.35,290.09 C772.98,290.09 782.62,283.95 792.25,290.09 C801.88,296.23 811.52,314.64 821.15,326.91 C830.78,339.18 840.42,357.59 850.05,363.73 C859.68,369.86 869.32,369.86 878.95,363.73 C888.58,357.59 898.22,339.18 907.85,326.91 C917.48,314.64 927.12,302.36 936.75,290.09 C946.38,277.82 956.02,259.41 965.65,253.27 C975.28,247.14 984.92,253.27 994.55,253.27" transform="translate(-0.8,0)"/>
<path d="M618.85,290.09 C628.48,290.09 638.12,283.95 647.75,290.09 C657.38,296.23 667.02,320.77 676.65,326.91 C686.28,333.05 695.92,333.05 705.55,326.91 C715.18,320.77 724.82,296.23 734.45,290.09 C744.08,283.95 753.72,290.09 763.35,290.09 C772.98,290.09 782.62,283.95 792.25,290.09 C801.88,296.23 811.52,314.64 821.15,326.91 C830.78,339.18 840.42,357.59 850.05,363.73 C859.68,369.86 869.32,369.86 878.95,363.73 C888.58,357.59 898.22,339.18 907.85,326.91 C917.48,314.64 927.12,302.36 936.75,290.09 C946.38,277.82 956.02,259.41 965.65,253.27 C975.28,247.14 984.92,253.27 994.55,253.27" transform="translate(0.8,0)"/>
</g>
<g stroke="#00CCFF" stroke-width="1.0">
<path d="M416.55,326.91 C426.18,326.91 435.82,326.91 445.45,326.91 C455.08,326.91 464.72,326.91 474.35,326.91 C483.98,326.91 493.62,326.91 503.25,326.91 C512.88,326.91 522.52,326.91 532.15,326.91 C541.78,326.91 551.42,326.91 561.05,326.91 C570.68,326.91 580.32,326.91 589.95,326.91 C599.58,326.91 609.22,326.91 618.85,326.91 C628.48,326.91 638.12,326.91 647.75,326.91 C657.38,326.91 667.02,320.77 676.65,326.91 C686.28,333.05 695.92,351.45 705.55,363.73 C714.10,374.62 725.90,422.33 734.45,400.55 C744.08,376.00 753.72,234.86 763.35,216.45 C772.98,198.05 782.62,277.82 792.25,290.09 C801.17,301.46 812.23,290.09 821.15,290.09 C830.78,290.09 840.42,283.95 850.05,290.09 C859.68,296.23 869.32,326.91 878.95,326.91 C888.58,326.91 898.22,296.23 907.85,290.09 C917.48,283.95 927.12,290.09 936.75,290.09 C946.38,290.09 956.02,290.09 965.65,290.09 C975.28,290.09 984.92,290.09 994.55,290.09" transform="translate(-0.5,-0.5)"/>
<path d="M416.55,326.91 C426.18,326.91 435.82,326.91 445.45,326.91 C455.08,326.91 464.72,326.91 474.35,326.91 C483.98,326.91 493.62,326.91 503.25,326.91 C512.88,326.91 522.52,326.91 532.15,326.91 C541.78,326.91 551.42,326.91 561.05,326.91 C570.68,326.91 580.32,326.91 589.95,326.91 C599.58,326.91 609.22,326.91 618.85,326.91 C628.48,326.91 638.12,326.91 647.75,326.91 C657.38,326.91 667.02,320.77 676.65,326.91 C686.28,333.05 695.92,351.45 705.55,363.73 C714.10,374.62 725.90,422.33 734.45,400.55 C744.08,376.00 753.72,234.86 763.35,216.45 C772.98,198.05 782.62,277.82 792.25,290.09 C801.17,301.46 812.23,290.09 821.15,290.09 C830.78,290.09 840.42,283.95 850.05,290.09 C859.68,296.23 869.32,326.91 878.95,326.91 C888.58,326.91 898.22,296.23 907.85,290.09 C917.48,283.95 927.12,290.09 936.75,290.09 C946.38,290.09 956.02,290.09 965.65,290.09 C975.28,290.09 984.92,290.09 994.55,290.09" transform="translate(0.5,-0.5)"/>
<path d="M416.55,326.91 C426.18,326.91 435.82,326.91 445.45,326.91 C455.08,326.91 464.72,326.91 474.35,326.91 C483.98,326.91 493.62,326.91 503.25,326.91 C512.88,326.91 522.52,326.91 532.15,326.91 C541.78,326.91 551.42,326.91 561.05,326.91 C570.68,326.91 580.32,326.91 589.95,326.91 C599.58,326.91 609.22,326.91 618.85,326.91 C628.48,326.91 638.12,326.91 647.75,326.91 C657.38,326.91 667.02,320.77 676.65,326.91 C686.28,333.05 695.92,351.45 705.55,363.73 C714.10,374.62 725.90,422.33 734.45,400.55 C744.08,376.00 753.72,234.86 763.35,216.45 C772.98,198.05 782.62,277.82 792.25,290.09 C801.17,301.46 812.23,290.09 821.15,290.09 C830.78,290.09 840.42,283.95 850.05,290.09 C859.68,296.23 869.32,326.91 878.95,326.91 C888.58,326.91 898.22,296.23 907.85,290.09 C917.48,283.95 927.12,290.09 936.75,290.09 C946.38,290.09 956.02,290.09 965.65,290.09 C975.28,290.09 984.92,290.09 994.55,290.09" transform="translate(-0.5,0.5)"/>
<path d="M416.55,326.91 C426.18,326.91 435.82,326.91 445.45,326.91 C455.08,326.91 464.72,326.91 474.35,326.91 C483.98,326.91 493.62,326.91 503.25,326.91 C512.88,326.91 522.52,326.91 532.15,326.91 C541.78,326.91 551.42,326.91 561.05,326.91 C570.68,326.91 580.32,326.91 589.95,326.91 C599.58,326.91 609.22,326.91 618.85,326.91 C628.48,326.91 638.12,326.91 647.75,326.91 C657.38,326.91 667.02,320.77 676.65,326.91 C686.28,333.05 695.92,351.45 705.55,363.73 C714.10,374.62 725.90,422.33 734.45,400.55 C744.08,376.00 753.72,234.86 763.35,216.45 C772.98,198.05 782.62,277.82 792.25,290.09 C801.17,301.46 812.23,290.09 821.15,290.09 C830.78,290.09 840.42,283.95 850.05,290.09 C859.68,296.23 869.32,326.91 878.95,326.91 C888.58,326.91 898.22,296.23 907.85,290.09 C917.48,283.95 927.12,290.09 936.75,290.09 C946.38,290.09 956.02,290.09 965.65,290.09 C975.28,290.09 984.92,290.09 994.55,290.09" transform="translate(0.5,0.5)"/>
<path d="M416.55,326.91 C426.18,326.91 435.82,326.91 445.45,326.91 C455.08,326.91 464.72,326.91 474.35,326.91 C483.98,326.91 493.62,326.91 503.25,326.91 C512.88,326.91 522.52,326.91 532.15,326.91 C541.78,326.91 551.42,326.91 561.05,326.91 C570.68,326.91 580.32,326.91 589.95,326.91 C599.58,326.91 609.22,326.91 618.85,326.91 C628.48,326.91 638.12,326.91 647.75,326.91 C657.38,326.91 667.02,320.77 676.65,326.91 C686.28,333.05 695.92,351.45 705.55,363.73 C714.10,374.62 725.90,422.33 734.45,400.55 C744.08,376.00 753.72,234.86 763.35,216.45 C772.98,198.05 782.62,277.82 792.25,290.09 C801.17,301.46 812.23,290.09 821.15,290.09 C830.78,290.09 840.42,283.95 850.05,290.09 C859.68,296.23 869.32,326.91 878.95,326.91 C888.58,326.91 898.22,296.23 907.85,290.09 C917.48,283.95 927.12,290.09 936.75,290.09 C946.38,290.09 956.02,290.09 965.65,290.09 C975.28,290.09 984.92,290.09 994.55,290.09" transform="translate(-0.8,0)"/>
<path d="M416.55,326.91 C426.18,326.91 435.82,326.91 445.45,326.91 C455.08,326.91 464.72,326.91 474.35,326.91 C483.98,326.91 493.62,326.91 503.25,326.91 C512.88,326.91 522.52,326.91 532.15,326.91 C541.78,326.91 551.42,326.91 561.05,326.91 C570.68,326.91 580.32,326.91 589.95,326.91 C599.58,326.91 609.22,326.91 618.85,326.91 C628.48,326.91 638.12,326.91 647.75,326.91 C657.38,326.91 667.02,320.77 676.65,326.91 C686.28,333.05 695.92,351.45 705.55,363.73 C714.10,374.62 725.90,422.33 734.45,400.55 C744.08,376.00 753.72,234.86 763.35,216.45 C772.98,198.05 782.62,277.82 792.25,290.09 C801.17,301.46 812.23,290.09 821.15,290.09 C830.78,290.09 840.42,283.95 850.05,290.09 C859.68,296.23 869.32,326.91 878.95,326.91 C888.58,326.91 898.22,296.23 907.85,290.09 C917.48,283.95 927.12,290.09 936.75,290.09 C946.38,290.09 956.02,290.09 965.65,290.09 C975.28,290.09 984.92,290.09 994.55,290.09" transform="translate(0.8,0)"/>
</g>
<g stroke="#FF0000" stroke-width="1.0">
<path d="M156.45,308.50 C166.08,290.09 175.72,262.48 185.35,253.27 C193.03,245.93 206.57,241.04 214.25,253.27 C223.88,268.61 233.52,320.77 243.15,345.32 C252.78,369.86 262.42,388.27 272.05,400.55 C281.68,412.82 291.32,412.82 300.95,418.95 C310.58,425.09 320.22,434.30 329.85,437.36 C339.48,440.43 349.12,431.23 358.75,437.36 C368.38,443.50 378.02,468.05 387.65,474.18 C397.28,480.32 406.92,474.18 416.55,474.18 C426.18,474.18 435.82,477.25 445.45,474.18 C455.08,471.11 464.72,458.84 474.35,455.77 C483.98,452.70 493.62,455.77 503.25,455.77 C512.88,455.77 522.52,461.91 532.15,455.77 C538.57,451.68 554.63,441.46 561.05,418.95 C570.68,385.20 580.32,268.61 589.95,253.27 C599.58,237.93 609.22,308.50 618.85,326.91 C628.48,345.32 638.12,348.39 647.75,363.73 C657.38,379.07 667.02,403.61 676.65,418.95 C686.28,434.30 695.92,455.77 705.55,455.77 C715.18,455.77 724.82,431.23 734.45,418.95 C744.08,406.68 753.72,379.07 763.35,382.14 C772.98,385.20 782.62,425.09 792.25,437.36 C801.88,449.64 811.52,452.70 821.15,455.77 C830.78,458.84 840.42,458.84 850.05,455.77 C857.99,453.24 871.01,452.54 878.95,437.36 C888.58,418.95 898.22,366.80 907.85,345.32 C917.43,323.96 927.17,320.70 936.75,308.50 C946.38,296.23 956.02,290.09 965.65,271.68 C975.28,253.27 984.92,222.59 994.55,198.05" transform="translate(-1.5,0)"/>
<path d="M156.45,308.50 C166.08,290.09 175.72,262.48 185.35,253.27 C193.03,245.93 206.57,241.04 214.25,253.27 C223.88,268.61 233.52,320.77 243.15,345.32 C252.78,369.86 262.42,388.27 272.05,400.55 C281.68,412.82 291.32,412.82 300.95,418.95 C310.58,425.09 320.22,434.30 329.85,437.36 C339.48,440.43 349.12,431.23 358.75,437.36 C368.38,443.50 378.02,468.05 387.65,474.18 C397.28,480.32 406.92,474.18 416.55,474.18 C426.18,474.18 435.82,477.25 445.45,474.18 C455.08,471.11 464.72,458.84 474.35,455.77 C483.98,452.70 493.62,455.77 503.25,455.77 C512.88,455.77 522.52,461.91 532.15,455.77 C538.57,451.68 554.63,441.46 561.05,418.95 C570.68,385.20 580.32,268.61 589.95,253.27 C599.58,237.93 609.22,308.50 618.85,326.91 C628.48,345.32 638.12,348.39 647.75,363.73 C657.38,379.07 667.02,403.61 676.65,418.95 C686.28,434.30 695.92,455.77 705.55,455.77 C715.18,455.77 724.82,431.23 734.45,418.95 C744.08,406.68 753.72,379.07 763.35,382.14 C772.98,385.20 782.62,425.09 792.25,437.36 C801.88,449.64 811.52,452.70 821.15,455.77 C830.78,458.84 840.42,458.84 850.05,455.77 C857.99,453.24 871.01,452.54 878.95,437.36 C888.58,418.95 898.22,366.80 907.85,345.32 C917.43,323.96 927.17,320.70 936.75,308.50 C946.38,296.23 956.02,290.09 965.65,271.68 C975.28,253.27 984.92,222.59 994.55,198.05" transform="translate(-0.5,0)"/>
<path d="M156.45,308.50 C166.08,290.09 175.72,262.48 185.35,253.27 C193.03,245.93 206.57,241.04 214.25,253.27 C223.88,268.61 233.52,320.77 243.15,345.32 C252.78,369.86 262.42,388.27 272.05,400.55 C281.68,412.82 291.32,412.82 300.95,418.95 C310.58,425.09 320.22,434.30 329.85,437.36 C339.48,440.43 349.12,431.23 358.75,437.36 C368.38,443.50 378.02,468.05 387.65,474.18 C397.28,480.32 406.92,474.18 416.55,474.18 C426.18,474.18 435.82,477.25 445.45,474.18 C455.08,471.11 464.72,458.84 474.35,455.77 C483.98,452.70 493.62,455.77 503.25,455.77 C512.88,455.77 522.52,461.91 532.15,455.77 C538.57,451.68 554.63,441.46 561.05,418.95 C570.68,385.20 580.32,268.61 589.95,253.27 C599.58,237.93 609.22,308.50 618.85,326.91 C628.48,345.32 638.12,348.39 647.75,363.73 C657.38,379.07 667.02,403.61 676.65,418.95 C686.28,434.30 695.92,455.77 705.55,455.77 C715.18,455.77 724.82,431.23 734.45,418.95 C744.08,406.68 753.72,379.07 763.35,382.14 C772.98,385.20 782.62,425.09 792.25,437.36 C801.88,449.64 811.52,452.70 821.15,455.77 C830.78,458.84 840.42,458.84 850.05,455.77 C857.99,453.24 871.01,452.54 878.95,437.36 C888.58,418.95 898.22,366.80 907.85,345.32 C917.43,323.96 927.17,320.70 936.75,308.50 C946.38,296.23 956.02,290.09 965.65,271.68 C975.28,253.27 984.92,222.59 994.55,198.05" transform="translate(0.5,0)"/>
<path d="M156.45,308.50 C166.08,290.09 175.72,262.48 185.35,253.27 C193.03,245.93 206.57,241.04 214.25,253.27 C223.88,268.61 233.52,320.77 243.15,345.32 C252.78,369.86 262.42,388.27 272.05,400.55 C281.68,412.82 291.32,412.82 300.95,418.95 C310.58,425.09 320.22,434.30 329.85,437.36 C339.48,440.43 349.12,431.23 358.75,437.36 C368.38,443.50 378.02,468.05 387.65,474.18 C397.28,480.32 406.92,474.18 416.55,474.18 C426.18,474.18 435.82,477.25 445.45,474.18 C455.08,471.11 464.72,458.84 474.35,455.77 C483.98,452.70 493.62,455.77 503.25,455.77 C512.88,455.77 522.52,461.91 532.15,455.77 C538.57,451.68 554.63,441.46 561.05,418.95 C570.68,385.20 580.32,268.61 589.95,253.27 C599.58,237.93 609.22,308.50 618.85,326.91 C628.48,345.32 638.12,348.39 647.75,363.73 C657.38,379.07 667.02,403.61 676.65,418.95 C686.28,434.30 695.92,455.77 705.55,455.77 C715.18,455.77 724.82,431.23 734.45,418.95 C744.08,406.68 753.72,379.07 763.35,382.14 C772.98,385.20 782.62,425.09 792.25,437.36 C801.88,449.64 811.52,452.70 821.15,455.77 C830.78,458.84 840.42,458.84 850.05,455.77 C857.99,453.24 871.01,452.54 878.95,437.36 C888.58,418.95 898.22,366.80 907.85,345.32 C917.43,323.96 927.17,320.70 936.75,308.50 C946.38,296.23 956.02,290.09 965.65,271.68 C975.28,253.27 984.92,222.59 994.55,198.05" transform="translate(1.5,0)"/>
<path d="M156.45,308.50 C166.08,290.09 175.72,262.48 185.35,253.27 C193.03,245.93 206.57,241.04 214.25,253.27 C223.88,268.61 233.52,320.77 243.15,345.32 C252.78,369.86 262.42,388.27 272.05,400.55 C281.68,412.82 291.32,412.82 300.95,418.95 C310.58,425.09 320.22,434.30 329.85,437.36 C339.48,440.43 349.12,431.23 358.75,437.36 C368.38,443.50 378.02,468.05 387.65,474.18 C397.28,480.32 406.92,474.18 416.55,474.18 C426.18,474.18 435.82,477.25 445.45,474.18 C455.08,471.11 464.72,458.84 474.35,455.77 C483.98,452.70 493.62,455.77 503.25,455.77 C512.88,455.77 522.52,461.91 532.15,455.77 C538.57,451.68 554.63,441.46 561.05,418.95 C570.68,385.20 580.32,268.61 589.95,253.27 C599.58,237.93 609.22,308.50 618.85,326.91 C628.48,345.32 638.12,348.39 647.75,363.73 C657.38,379.07 667.02,403.61 676.65,418.95 C686.28,434.30 695.92,455.77 705.55,455.77 C715.18,455.77 724.82,431.23 734.45,418.95 C744.08,406.68 753.72,379.07 763.35,382.14 C772.98,385.20 782.62,425.09 792.25,437.36 C801.88,449.64 811.52,452.70 821.15,455.77 C830.78,458.84 840.42,458.84 850.05,455.77 C857.99,453.24 871.01,452.54 878.95,437.36 C888.58,418.95 898.22,366.80 907.85,345.32 C917.43,323.96 927.17,320.70 936.75,308.50 C946.38,296.23 956.02,290.09 965.65,271.68 C975.28,253.27 984.92,222.59 994.55,198.05" transform="translate(-0.5,-1)"/>
<path d="M156.45,308.50 C166.08,290.09 175.72,262.48 185.35,253.27 C193.03,245.93 206.57,241.04 214.25,253.27 C223.88,268.61 233.52,320.77 243.15,345.32 C252.78,369.86 262.42,388.27 272.05,400.55 C281.68,412.82 291.32,412.82 300.95,418.95 C310.58,425.09 320.22,434.30 329.85,437.36 C339.48,440.43 349.12,431.23 358.75,437.36 C368.38,443.50 378.02,468.05 387.65,474.18 C397.28,480.32 406.92,474.18 416.55,474.18 C426.18,474.18 435.82,477.25 445.45,474.18 C455.08,471.11 464.72,458.84 474.35,455.77 C483.98,452.70 493.62,455.77 503.25,455.77 C512.88,455.77 522.52,461.91 532.15,455.77 C538.57,451.68 554.63,441.46 561.05,418.95 C570.68,385.20 580.32,268.61 589.95,253.27 C599.58,237.93 609.22,308.50 618.85,326.91 C628.48,345.32 638.12,348.39 647.75,363.73 C657.38,379.07 667.02,403.61 676.65,418.95 C686.28,434.30 695.92,455.77 705.55,455.77 C715.18,455.77 724.82,431.23 734.45,418.95 C744.08,406.68 753.72,379.07 763.35,382.14 C772.98,385.20 782.62,425.09 792.25,437.36 C801.88,449.64 811.52,452.70 821.15,455.77 C830.78,458.84 840.42,458.84 850.05,455.77 C857.99,453.24 871.01,452.54 878.95,437.36 C888.58,418.95 898.22,366.80 907.85,345.32 C917.43,323.96 927.17,320.70 936.75,308.50 C946.38,296.23 956.02,290.09 965.65,271.68 C975.28,253.27 984.92,222.59 994.55,198.05" transform="translate(0.5,-1)"/>
<path d="M156.45,308.50 C166.08,290.09 175.72,262.48 185.35,253.27 C193.03,245.93 206.57,241.04 214.25,253.27 C223.88,268.61 233.52,320.77 243.15,345.32 C252.78,369.86 262.42,388.27 272.05,400.55 C281.68,412.82 291.32,412.82 300.95,418.95 C310.58,425.09 320.22,434.30 329.85,437.36 C339.48,440.43 349.12,431.23 358.75,437.36 C368.38,443.50 378.02,468.05 387.65,474.18 C397.28,480.32 406.92,474.18 416.55,474.18 C426.18,474.18 435.82,477.25 445.45,474.18 C455.08,471.11 464.72,458.84 474.35,455.77 C483.98,452.70 493.62,455.77 503.25,455.77 C512.88,455.77 522.52,461.91 532.15,455.77 C538.57,451.68 554.63,441.46 561.05,418.95 C570.68,385.20 580.32,268.61 589.95,253.27 C599.58,237.93 609.22,308.50 618.85,326.91 C628.48,345.32 638.12,348.39 647.75,363.73 C657.38,379.07 667.02,403.61 676.65,418.95 C686.28,434.30 695.92,455.77 705.55,455.77 C715.18,455.77 724.82,431.23 734.45,418.95 C744.08,406.68 753.72,379.07 763.35,382.14 C772.98,385.20 782.62,425.09 792.25,437.36 C801.88,449.64 811.52,452.70 821.15,455.77 C830.78,458.84 840.42,458.84 850.05,455.77 C857.99,453.24 871.01,452.54 878.95,437.36 C888.58,418.95 898.22,366.80 907.85,345.32 C917.43,323.96 927.17,320.70 936.75,308.50 C946.38,296.23 956.02,290.09 965.65,271.68 C975.28,253.27 984.92,222.59 994.55,198.05" transform="translate(-0.5,1)"/>
<path d="M156.45,308.50 C166.08,290.09 175.72,262.48 185.35,253.27 C193.03,245.93 206.57,241.04 214.25,253.27 C223.88,268.61 233.52,320.77 243.15,345.32 C252.78,369.86 262.42,388.27 272.05,400.55 C281.68,412.82 291.32,412.82 300.95,418.95 C310.58,425.09 320.22,434.30 329.85,437.36 C339.48,440.43 349.12,431.23 358.75,437.36 C368.38,443.50 378.02,468.05 387.65,474.18 C397.28,480.32 406.92,474.18 416.55,474.18 C426.18,474.18 435.82,477.25 445.45,474.18 C455.08,471.11 464.72,458.84 474.35,455.77 C483.98,452.70 493.62,455.77 503.25,455.77 C512.88,455.77 522.52,461.91 532.15,455.77 C538.57,451.68 554.63,441.46 561.05,418.95 C570.68,385.20 580.32,268.61 589.95,253.27 C599.58,237.93 609.22,308.50 618.85,326.91 C628.48,345.32 638.12,348.39 647.75,363.73 C657.38,379.07 667.02,403.61 676.65,418.95 C686.28,434.30 695.92,455.77 705.55,455.77 C715.18,455.77 724.82,431.23 734.45,418.95 C744.08,406.68 753.72,379.07 763.35,382.14 C772.98,385.20 782.62,425.09 792.25,437.36 C801.88,449.64 811.52,452.70 821.15,455.77 C830.78,458.84 840.42,458.84 850.05,455.77 C857.99,453.24 871.01,452.54 878.95,437.36 C888.58,418.95 898.22,366.80 907.85,345.32 C917.43,323.96 927.17,320.70 936.75,308.50 C946.38,296.23 956.02,290.09 965.65,271.68 C975.28,253.27 984.92,222.59 994.55,198.05" transform="translate(0.5,1)"/>
</g>
</g>
<g shape-rendering="crispEdges" fill="#FFCC00" stroke="#000" stroke-width="1">
<path d="M762.5,138.5 H766.5 V167.5 H768.5 L764.5,177 L760.5,167.5 H762.5 Z"/>
<path d="M912.5,169.5 H929.5 V186.5 H938.5 L921,192.5 L903.5,186.5 H912.5 Z"/>
</g>
<g shape-rendering="crispEdges">
<rect x="698" y="521.0" width="30" height="2" fill="#00FF00"/>
<rect x="698" y="540.0" width="30" height="2" fill="#FFCC00"/>
<rect x="698" y="559.0" width="30" height="2" fill="#CC99FF"/>
<rect x="698" y="576.0" width="31" height="3" fill="#FF0000"/>
<rect x="904" y="521.0" width="30" height="2" fill="#3366FF"/>
<rect x="904" y="540.0" width="30" height="2" fill="#00FFFF"/>
<rect x="904" y="559.0" width="30" height="2" fill="#00CCFF"/>
</g>
</svg>
<div class="t" style="left:154.0px;top:25px;font-size:15.5px;font-weight:bold;letter-spacing:0.215px;word-spacing:1.50px;">Political events and psychological climate for the UK Government 1998-2000: Table 7 - combined effects</div>
<div class="t" style="left:223.9px;top:69px;font-size:17px;">1998</div>
<div class="t" style="left:520.7px;top:67px;font-size:17px;letter-spacing:0.033px;">1999</div>
<div class="t" style="left:807.0px;top:67px;font-size:17px;letter-spacing:0.2px;">2000</div>
<div class="t" style="left:125.3px;top:101px;font-size:12.5px;letter-spacing:-0.437px;transform-origin:0 10px;transform:scaleY(1.050);">5</div>
<div class="t" style="left:125.3px;top:137px;font-size:12.5px;letter-spacing:-0.437px;transform-origin:0 10px;transform:scaleY(1.050);">4</div>
<div class="t" style="left:125.3px;top:174px;font-size:12.5px;letter-spacing:-0.437px;transform-origin:0 10px;transform:scaleY(1.050);">3</div>
<div class="t" style="left:125.3px;top:211px;font-size:12.5px;letter-spacing:-0.437px;transform-origin:0 10px;transform:scaleY(1.050);">2</div>
<div class="t" style="left:125.3px;top:248px;font-size:12.5px;letter-spacing:-0.437px;transform-origin:0 10px;transform:scaleY(1.050);">1</div>
<div class="t" style="left:125.3px;top:285px;font-size:12.5px;letter-spacing:-0.437px;transform-origin:0 10px;transform:scaleY(1.050);">0</div>
<div class="t" style="left:121.0px;top:322px;font-size:12.5px;letter-spacing:-0.301px;transform-origin:0 10px;transform:scaleY(1.050);">-1</div>
<div class="t" style="left:121.0px;top:358px;font-size:12.5px;letter-spacing:-0.301px;transform-origin:0 10px;transform:scaleY(1.050);">-2</div>
<div class="t" style="left:121.0px;top:395px;font-size:12.5px;letter-spacing:-0.301px;transform-origin:0 10px;transform:scaleY(1.050);">-3</div>
<div class="t" style="left:121.0px;top:432px;font-size:12.5px;letter-spacing:-0.301px;transform-origin:0 10px;transform:scaleY(1.050);">-4</div>
<div class="t" style="left:121.0px;top:469px;font-size:12.5px;letter-spacing:-0.301px;transform-origin:0 10px;transform:scaleY(1.050);">-5</div>
<div class="t" style="left:121.0px;top:506px;font-size:12.5px;letter-spacing:-0.301px;transform-origin:0 10px;transform:scaleY(1.050);">-6</div>
<div class="t" style="left:152.6px;top:301px;font-size:10.5px;">A</div>
<div class="t" style="left:180.7px;top:301px;font-size:10.5px;">M</div>
<div class="t" style="left:211.3px;top:301px;font-size:10.5px;">J</div>
<div class="t" style="left:240.2px;top:301px;font-size:10.5px;">J</div>
<div class="t" style="left:268.2px;top:301px;font-size:10.5px;">A</div>
<div class="t" style="left:297.2px;top:301px;font-size:10.5px;">S</div>
<div class="t" style="left:325.5px;top:301px;font-size:10.5px;">O</div>
<div class="t" style="left:354.7px;top:301px;font-size:10.5px;">N</div>
<div class="t" style="left:383.6px;top:301px;font-size:10.5px;">D</div>
<div class="t" style="left:413.6px;top:301px;font-size:10.5px;">J</div>
<div class="t" style="left:441.9px;top:301px;font-size:10.5px;">F</div>
<div class="t" style="left:469.7px;top:301px;font-size:10.5px;">M</div>
<div class="t" style="left:499.4px;top:301px;font-size:10.5px;">A</div>
<div class="t" style="left:527.5px;top:301px;font-size:10.5px;">M</div>
<div class="t" style="left:558.1px;top:301px;font-size:10.5px;">J</div>
<div class="t" style="left:587.0px;top:301px;font-size:10.5px;">J</div>
<div class="t" style="left:615.0px;top:301px;font-size:10.5px;">A</div>
<div class="t" style="left:644.0px;top:301px;font-size:10.5px;">S</div>
<div class="t" style="left:672.3px;top:301px;font-size:10.5px;">O</div>
<div class="t" style="left:701.5px;top:301px;font-size:10.5px;">N</div>
<div class="t" style="left:730.4px;top:301px;font-size:10.5px;">D</div>
<div class="t" style="left:760.4px;top:301px;font-size:10.5px;">J</div>
<div class="t" style="left:788.7px;top:301px;font-size:10.5px;">F</div>
<div class="t" style="left:816.5px;top:301px;font-size:10.5px;">M</div>
<div class="t" style="left:846.2px;top:301px;font-size:10.5px;">A</div>
<div class="t" style="left:874.3px;top:301px;font-size:10.5px;">M</div>
<div class="t" style="left:904.9px;top:301px;font-size:10.5px;">J</div>
<div class="t" style="left:933.8px;top:301px;font-size:10.5px;">J</div>
<div class="t" style="left:961.8px;top:301px;font-size:10.5px;">A</div>
<div class="t" style="left:990.8px;top:301px;font-size:10.5px;">S</div>
<div class="t" style="left:53.9px;top:124px;font-size:12px;font-style:italic;letter-spacing:0.259px;">elation</div>
<div class="t" style="left:59.5px;top:438px;font-size:12px;font-style:italic;letter-spacing:0.393px;">trauma</div>
<div class="t" style="left:50.9px;top:455px;font-size:12px;font-style:italic;letter-spacing:0.39px;">or tension</div>
<div class="t" style="left:157.5px;top:117px;font-size:12px;font-weight:bold;letter-spacing:-0.165px;">Northern</div>
<div class="t" style="left:162.8px;top:133px;font-size:12px;font-weight:bold;letter-spacing:-0.189px;">Ireland</div>
<div class="t" style="left:165.2px;top:149px;font-size:12px;font-weight:bold;letter-spacing:-0.078px;">peace</div>
<div class="t" style="left:148.9px;top:165px;font-size:12px;font-weight:bold;letter-spacing:0.019px;">referendum</div>
<div class="t" style="left:173.8px;top:383px;font-size:12px;font-weight:bold;letter-spacing:0.598px;">Drumcree</div>
<div class="t" style="left:249.0px;top:349px;font-size:12px;font-weight:bold;letter-spacing:-0.415px;">Sudan</div>
<div class="t" style="left:249.0px;top:365px;font-size:12px;font-weight:bold;letter-spacing:-0.134px;">retaliation</div>
<div class="t" style="left:219.1px;top:412px;font-size:12px;font-weight:bold;letter-spacing:-0.332px;">Omagh</div>
<div class="t" style="left:223.9px;top:428px;font-size:12px;font-weight:bold;letter-spacing:-0.45px;">bomb</div>
<div class="t" style="left:363.9px;top:416px;font-size:12px;font-weight:bold;letter-spacing:-0.299px;">Iraq</div>
<div class="t" style="left:364.4px;top:432px;font-size:12px;font-weight:bold;letter-spacing:-0.224px;">war</div>
<div class="t" style="left:457.0px;top:412px;font-size:12px;font-weight:bold;letter-spacing:-0.035px;">Balkans war</div>
<div class="t" style="left:511.8px;top:195px;font-size:12px;font-weight:bold;letter-spacing:-0.056px;">New Scots &amp;</div>
<div class="t" style="left:495.4px;top:211px;font-size:12px;font-weight:bold;letter-spacing:0.09px;">Welsh assemblies</div>
<div class="t" style="left:525.1px;top:255px;font-size:12px;font-weight:bold;letter-spacing:0.055px;">calm parades</div>
<div class="t" style="left:564.4px;top:130px;font-size:12px;font-weight:bold;letter-spacing:-0.45px;">Kosovo</div>
<div class="t" style="left:559.0px;top:146px;font-size:12px;font-weight:bold;letter-spacing:-0.222px;">liberation</div>
<div class="t" style="left:622.1px;top:330px;font-size:12px;font-weight:bold;letter-spacing:-0.103px;">Mitchell talks</div>
<div class="t" style="left:698.6px;top:348px;font-size:12px;font-weight:bold;letter-spacing:-0.45px;">Y2K?</div>
<div class="t" style="left:646.1px;top:382px;font-size:12px;font-weight:bold;letter-spacing:-0.38px;">Chechnya</div>
<div class="t" style="left:575.9px;top:406px;font-size:12px;font-weight:bold;letter-spacing:-0.096px;">Iraq sanctions</div>
<div class="t" style="left:572.9px;top:422px;font-size:12px;font-weight:bold;letter-spacing:-0.069px;">&amp; war continue</div>
<div class="t" style="left:703.8px;top:144px;font-size:12px;font-weight:bold;letter-spacing:-0.347px;">New NI</div>
<div class="t" style="left:694.9px;top:160px;font-size:12px;font-weight:bold;letter-spacing:-0.126px;">Assembly</div>
<div class="t" style="left:751.4px;top:118px;font-size:12px;font-weight:bold;color:#FF0000;letter-spacing:-0.45px;">Now</div>
<div class="t" style="left:745.1px;top:235px;font-size:12px;font-weight:bold;letter-spacing:-0.45px;">No</div>
<div class="t" style="left:743.6px;top:251px;font-size:12px;font-weight:bold;letter-spacing:-0.45px;">bug</div>
<div class="t" style="left:829.0px;top:321px;font-size:12.5px;font-weight:bold;letter-spacing:-0.152px;">Lords</div>
<div class="t" style="left:829.0px;top:337px;font-size:12.5px;font-weight:bold;letter-spacing:-0.23px;">crisis</div>
<div class="t" style="left:148.6px;top:341px;font-size:12.5px;letter-spacing:0.239px;transform-origin:0 10px;transform:scaleY(1.050);">&lt;&lt; Feb  98</div>
<div class="t" style="left:148.6px;top:358px;font-size:12.5px;letter-spacing:-0.12px;transform-origin:0 10px;transform:scaleY(1.050);">Iraq war vote</div>
<div class="t" style="left:148.5px;top:487px;font-size:13px;letter-spacing:0.003px;">Clinton~Lewinsky saga &amp; impeachment</div>
<div class="t" style="left:807.7px;top:214px;font-size:12.5px;letter-spacing:-0.376px;transform-origin:0 10px;transform:scaleY(1.050);">Budget?</div>
<div class="t" style="left:895.5px;top:232px;font-size:12.5px;letter-spacing:-0.45px;transform-origin:0 10px;transform:scaleY(1.050);">RUC</div>
<div class="t" style="left:776.8px;top:258px;font-size:12.5px;letter-spacing:0.148px;transform-origin:0 10px;transform:scaleY(1.050);">Decommissioning</div>
<div class="t" style="left:751.5px;top:308px;font-size:12.5px;letter-spacing:-0.242px;transform-origin:0 10px;transform:scaleY(1.050);">devolution</div>
<div class="t" style="left:749.9px;top:324px;font-size:12.5px;letter-spacing:-0.127px;transform-origin:0 10px;transform:scaleY(1.050);">power shift</div>
<div class="t" style="left:753.9px;top:340px;font-size:12.5px;letter-spacing:-0.251px;transform-origin:0 10px;transform:scaleY(1.050);">&amp; funding</div>
<div class="t" style="left:869.0px;top:118px;font-size:12.5px;letter-spacing:0.038px;transform-origin:0 10px;transform:scaleY(1.050);">Millennium summer</div>
<div class="t" style="left:889.9px;top:134px;font-size:12.5px;letter-spacing:-0.091px;transform-origin:0 10px;transform:scaleY(1.050);">celebrations</div>
<div class="t" style="left:895.9px;top:150px;font-size:12.5px;letter-spacing:-0.198px;transform-origin:0 10px;transform:scaleY(1.050);">&amp; parades</div>
<div class="t" style="left:953.6px;top:373px;font-size:12.5px;letter-spacing:-0.45px;transform-origin:0 10px;transform:scaleY(1.050);">Iraq</div>
<div class="t" style="left:943.8px;top:389px;font-size:12.5px;letter-spacing:-0.319px;transform-origin:0 10px;transform:scaleY(1.050);">peace?</div>
<div class="t" style="left:739.6px;top:466px;font-size:12.5px;letter-spacing:-0.095px;transform-origin:0 10px;transform:scaleY(1.050);">Putin accession - new cold war?</div>
<div class="t" style="left:794.8px;top:493px;font-size:11px;letter-spacing:-0.054px;">copyright Eos Career Services 2000</div>
<div class="t" style="left:135.6px;top:517px;font-size:11px;letter-spacing:-0.004px;">Key events and their likely effects on stress levels for senior ministers and &quot;psychological climate&quot;</div>
<div class="t" style="left:135.6px;top:532px;font-size:11px;letter-spacing:-0.098px;">in the UK Cabinet. Major events and traumas are likely to start transition periods for ministers</div>
<div class="t" style="left:135.6px;top:547px;font-size:11px;letter-spacing:0.037px;">affected with potential crises and risk of strategic  errors 6+ months later.</div>
<div class="t" style="left:135.6px;top:577px;font-size:11px;letter-spacing:-0.137px;">Interpretation by Dai Williams, Chartered Occupational Psychologist, 23 Jan 2000,</div>
<div class="t" style="left:730.7px;top:515px;font-size:13px;letter-spacing:-0.282px;">Northern Ireland</div>
<div class="t" style="left:730.7px;top:534px;font-size:13px;letter-spacing:0.004px;">Balkans/Russia</div>
<div class="t" style="left:730.7px;top:553px;font-size:13px;letter-spacing:-0.293px;">Lords reform</div>
<div class="t" style="left:730.7px;top:571px;font-size:13px;letter-spacing:-0.011px;">Mode = Cabinet stress</div>
<div class="t" style="left:936.8px;top:515px;font-size:13px;letter-spacing:-0.3px;">Iraq/Islam</div>
<div class="t" style="left:936.8px;top:534px;font-size:13px;letter-spacing:-0.446px;">Devolution</div>
<div class="t" style="left:936.8px;top:553px;font-size:13px;letter-spacing:-0.243px;">Y2K bug</div>
<div class="t" style="left:135.6px;top:592px;font-size:11px;letter-spacing:-0.043px;">author of</div>
<div class="t" style="left:182.7px;top:592px;font-size:11px;font-weight:bold;letter-spacing:0.235px;">Parliament in Transition</div>
<div class="t" style="left:316.8px;top:592px;font-size:11px;letter-spacing:-0.042px;">(Review edition 1999) that explains transitions.</div>
<div class="t" style="left:100.2px;top:360.2px;font-size:14px;font-weight:bold;letter-spacing:0.147px;transform-origin:0 0;transform:rotate(-90deg) translateY(-11.9px);">Psychological climate</div>
</body></html>
